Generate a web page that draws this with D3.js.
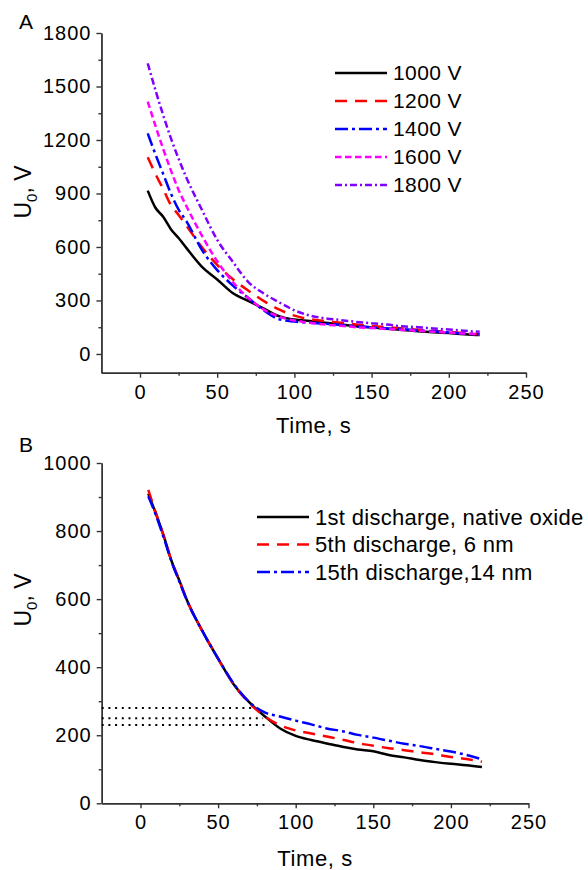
<!DOCTYPE html>
<meta charset="utf-8">
<style>
  body { margin: 0; background: #fff; }
  text { font-family: "Liberation Sans", Arial, sans-serif; fill: #000; }
  .axis path, .axis line { stroke: #333; stroke-width: 1.4px; }
  .axis text { font-size: 20px; fill: #000; letter-spacing: 1px; }
  .curve { fill: none; stroke-width: 2.5px; }
</style>
<body>
<svg id="fig" width="588" height="870"></svg>
<script src="https://cdn.jsdelivr.net/npm/d3@7"></script>
<script>
// ---- panel A: different charging voltages ----
var timeA = [5, 10, 15, 20, 25, 30, 40, 50, 60, 70, 80, 90, 100, 110, 120, 130, 140, 150, 160, 170, 180, 190, 200, 210, 220];
var u1000 = [916, 820, 770, 700, 650, 595, 490, 418, 342, 298, 256, 212, 193, 185, 175, 166, 155, 149, 142, 135, 128, 122, 117, 111, 106];
var u1200 = [1103, 1010, 925, 835, 780, 720, 600, 500, 420, 356, 298, 250, 215, 195, 185, 175, 165, 157, 150, 143, 136, 130, 123, 117, 110];
var u1400 = [1237, 1120, 1010, 900, 810, 745, 585, 470, 385, 315, 245, 195, 182, 175, 170, 163, 155, 150, 143, 140, 132, 127, 120, 115, 110];
var u1600 = [1415, 1280, 1150, 1030, 920, 830, 665, 520, 405, 315, 250, 210, 188, 175, 165, 158, 150, 145, 140, 135, 130, 125, 120, 115, 108];
var u1800 = [1630, 1480, 1340, 1210, 1095, 990, 810, 640, 518, 405, 340, 290, 245, 215, 200, 190, 180, 172, 165, 155, 150, 143, 137, 130, 124];
var namesA = ["1000 V", "1200 V", "1400 V", "1600 V", "1800 V"];
var yTicksA = [0, 300, 600, 900, 1200, 1500, 1800];
var yMinorA = [150, 450, 750, 1050, 1350, 1650];

// ---- panel B: repeated discharges ----
var timeB = [5, 10, 15, 20, 25, 30, 40, 50, 60, 70, 80, 90, 100, 110, 120, 130, 140, 150, 160, 170, 180, 190, 200, 210, 220];
var first = [910, 850, 785, 712, 655, 596, 505, 425, 350, 297, 256, 220, 198, 186, 176, 166, 158, 153, 142, 135, 127, 121, 116, 112, 107];
var fifth = [921, 852, 785, 712, 655, 596, 505, 425, 350, 295, 256, 229, 214, 205, 196, 187, 177, 169, 162, 156, 150, 144, 136, 130, 122];
var fifteenth = [902, 846, 780, 710, 652, 595, 505, 425, 352, 298, 267, 255, 243, 232, 220, 212, 201, 193, 184, 175, 168, 160, 152, 142, 129];
var namesB = ["1st discharge, native oxide", "5th discharge, 6 nm", "15th discharge,14 nm"];
var refLevels = [280, 250, 230];
var refEnds = [73, 79, 83];
var yTicksB = [0, 200, 400, 600, 800, 1000];
var yMinorB = [100, 300, 500, 700, 900];

var xTicks = [0, 50, 100, 150, 200, 250];
var xMinor = [25, 75, 125, 175, 225];

var styles = [
  { color: "#000000", dash: null },
  { color: "#ff0000", dash: "12,8" },
  { color: "#0000ff", dash: "13,4,3,4" },
  { color: "#ff00ff", dash: "6.5,3.5" },
  { color: "#8000ff", dash: "7,3,2,3" }
];

var svg = d3.select("#fig");
var fmt = d3.format("d");

function drawPanel(p) {
  var x = d3.scaleLinear().domain([-25, 250]).range(p.xRange);
  var y = d3.scaleLinear().domain(p.yDomain).range(p.yRange);
  var g = svg.append("g");

  // axes (major + minor ticks, outward)
  g.append("g").attr("class", "axis")
    .attr("transform", "translate(0," + p.yRange[0] + ")")
    .call(d3.axisBottom(x).tickValues(xTicks).tickFormat(fmt).tickSize(5).tickPadding(7).tickSizeOuter(0));
  g.append("g").attr("class", "axis")
    .attr("transform", "translate(0," + p.yRange[0] + ")")
    .call(d3.axisBottom(x).tickValues(xMinor).tickSize(3).tickFormat("").tickSizeOuter(0));
  g.append("g").attr("class", "axis")
    .attr("transform", "translate(" + p.xRange[0] + ",0)")
    .call(d3.axisLeft(y).tickValues(p.yTicks).tickFormat(fmt).tickSize(5).tickPadding(5).tickSizeOuter(0));
  g.append("g").attr("class", "axis")
    .attr("transform", "translate(" + p.xRange[0] + ",0)")
    .call(d3.axisLeft(y).tickValues(p.yMinor).tickSize(3).tickFormat("").tickSizeOuter(0));
  g.selectAll(".axis").attr("font-family", null).attr("font-size", null);

  // dotted guide lines
  if (p.refs) {
    g.selectAll(".ref").data(p.refs).enter().append("line")
      .attr("x1", x(-25))
      .attr("x2", function(d) { return x(d.end); })
      .attr("y1", function(d) { return y(d.level); })
      .attr("y2", function(d) { return y(d.level); })
      .attr("stroke", "#000").attr("stroke-width", 2)
      .attr("stroke-dasharray", "2,4.7");
  }

  var line = d3.line()
    .curve(d3.curveMonotoneX)
    .x(function(d) { return x(d[0]); })
    .y(function(d) { return y(d[1]); });

  p.series.forEach(function(s, i) {
    var pts = p.time.map(function(t, j) { return [t, s[j]]; });
    g.append("path").attr("class", "curve")
      .attr("d", line(pts))
      .attr("stroke", styles[i].color)
      .attr("stroke-dasharray", styles[i].dash);
  });

  // legend
  var leg = g.selectAll(".leg").data(p.names).enter().append("g")
    .attr("transform", function(d, i) { return "translate(0," + (p.legY + i * p.legStep) + ")"; });
  leg.append("line")
    .attr("x1", p.legX[0]).attr("x2", p.legX[1])
    .attr("stroke-width", 2.5)
    .attr("stroke", function(d, i) { return styles[i].color; })
    .attr("stroke-dasharray", function(d, i) { return styles[i].dash; });
  leg.append("text")
    .attr("x", p.legX[1] + 6).attr("dy", "0.35em")
    .style("font-size", p.legFont + "px")
    .style("letter-spacing", p.legSpace + "px")
    .text(function(d) { return d; });

  // titles
  g.append("text")
    .attr("x", (p.xRange[0] + p.xRange[1]) / 2).attr("y", p.xTitleY)
    .attr("text-anchor", "middle").style("font-size", "22px")
    .style("letter-spacing", "0.6px")
    .text("Time, s");
  var yt = g.append("text")
    .attr("transform", "translate(31," + p.yTitleY + ") rotate(-90)")
    .attr("text-anchor", "middle").style("font-size", "23px");
  yt.append("tspan").text("U");
  yt.append("tspan").attr("dy", 6).style("font-size", "15px").text("0");
  yt.append("tspan").attr("dy", -6).text(", V");

  g.append("text").attr("x", p.tag[0]).attr("y", p.tag[1])
    .style("font-size", "21px").text(p.label);
}

drawPanel({
  label: "A", tag: [19, 29],
  xRange: [101.4, 526], yDomain: [-105, 1800], yRange: [372.7, 33],
  yTicks: yTicksA, yMinor: yMinorA,
  time: timeA, series: [u1000, u1200, u1400, u1600, u1800], names: namesA,
  legX: [335, 387], legY: 73, legStep: 28, legFont: 21, legSpace: 0.4,
  xTitleY: 433, yTitleY: 192
});

drawPanel({
  label: "B", tag: [19, 452],
  xRange: [101.7, 528.5], yDomain: [0, 1000], yRange: [803.3, 463],
  yTicks: yTicksB, yMinor: yMinorB,
  time: timeB, series: [first, fifth, fifteenth], names: namesB,
  refs: refLevels.map(function(l, i) { return { level: l, end: refEnds[i] }; }),
  legX: [257, 309], legY: 517, legStep: 27.5, legFont: 22, legSpace: 0.3,
  xTitleY: 866, yTitleY: 600
});
</script>
</body>
